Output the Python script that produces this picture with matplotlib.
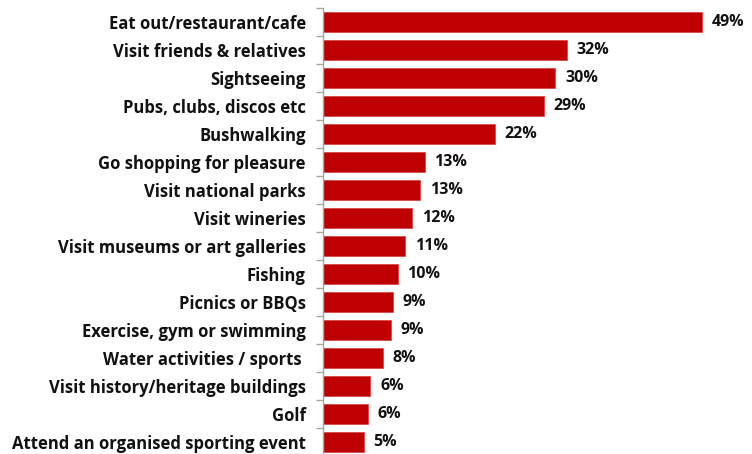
import matplotlib.pyplot as plt
import numpy as np

activities = [
    'Eat out/restaurant/cafe', 'Visit friends & relatives', 'Sightseeing',
    'Pubs, clubs, discos etc', 'Bushwalking', 'Go shopping for pleasure',
    'Visit national parks', 'Visit wineries', 'Visit museums or art galleries',
    'Fishing', 'Picnics or BBQs', 'Exercise, gym or swimming',
    'Water activities / sports ', 'Visit history/heritage buildings', 'Golf',
    'Attend an organised sporting event'
]
shares = [49.0, 31.6, 30.1, 28.6, 22.3, 13.2, 12.6, 11.6, 10.7, 9.7, 9.1, 8.8,
          7.8, 6.2, 5.9, 5.3]

bar_color = '#C00000'
plt.rcParams['font.family'] = ['Open Sans', 'DejaVu Sans']

fig = plt.figure(figsize=(7.52, 4.54), dpi=100)
W, H = 752, 454
# axes spans from the category axis to the right edge; runs past the bottom
ax = fig.add_axes([322.5 / W, -2 / H, (W - 322.5) / W, 448 / H])

y = np.arange(len(activities))
ax.barh(y, shares, height=0.74, color=bar_color, edgecolor='#D44040', linewidth=0.5)
ax.set_ylim(len(activities) - 0.5, -0.5)
ax.set_xlim(0, (W - 322.5) / 7.74)

ax.set_yticks(y)
ax.set_yticklabels(activities, fontsize=12, fontweight='bold', color='#111111')
ax.tick_params(axis='y', which='major', length=0, pad=12)
ax.set_yticks(np.arange(len(activities) + 1) - 0.5, minor=True)
ax.tick_params(axis='y', which='minor', length=5, width=1, color='#A6A6A6', direction='out')

for s in ['top', 'right', 'bottom']:
    ax.spines[s].set_visible(False)
ax.spines['left'].set_color('#A6A6A6')
ax.spines['left'].set_linewidth(1)
ax.get_xaxis().set_visible(False)

for i, v in enumerate(shares):
    ax.text(v + 1.25, i, f"{v:.0f}%", va='center', ha='left',
            fontsize=11.5, fontweight='bold', color='#111111')

fig.savefig('out.png', dpi=100)
